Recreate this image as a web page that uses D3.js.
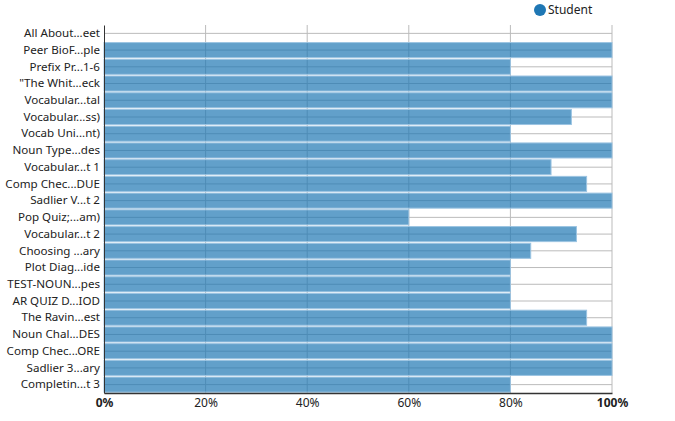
<!DOCTYPE html>
<html>
<head>
<meta charset="utf-8">
<script src="https://cdn.jsdelivr.net/npm/d3@7"></script>
<style>
  body { margin: 0; background: #fff; }
  svg { font-family: "Noto Sans", sans-serif; }
</style>
</head>
<body>
<svg id="chart" width="675" height="421"></svg>
<script>
// Assignment labels, as truncated in the chart
const categories = [
  "All About...eet", "Peer BioF...ple", "Prefix Pr...1-6", "\"The Whit...eck",
  "Vocabular...tal", "Vocabular...ss)", "Vocab Uni...nt)", "Noun Type...des",
  "Vocabular...t 1", "Comp Chec...DUE", "Sadlier V...t 2", "Pop Quiz;...am)",
  "Vocabular...t 2", "Choosing ...ary", "Plot Diag...ide", "TEST-NOUN...pes",
  "AR QUIZ D...IOD", "The Ravin...est", "Noun Chal...DES", "Comp Chec...ORE",
  "Sadlier 3...ary", "Completin...t 3"
]
// Student score, percent
const studentScores = [
  0, 100, 80, 100,
  100, 92, 80, 100,
  88, 95, 100, 60,
  93, 84, 80, 80,
  80, 95, 100, 100,
  100, 80
]
const xTicks = [0, 20, 40, 60, 80, 100]
const seriesName = "Student"

const margin = { top: 25, right: 63, bottom: 28, left: 104 }
const width = 675, height = 421
const svg = d3.select("#chart")

const x = d3.scaleLinear().domain([0, 100]).range([margin.left, width - margin.right])
const y = d3.scaleBand().domain(categories)
  .range([margin.top, height - margin.bottom]).paddingInner(0.1).paddingOuter(0.05)

// Gridlines
svg.append("g")
  .selectAll("line")
  .data(categories)
  .join("line")
  .attr("x1", x(0)).attr("x2", x(100))
  .attr("y1", d => y(d) + y.bandwidth() / 2)
  .attr("y2", d => y(d) + y.bandwidth() / 2)
  .attr("stroke", "#bbb").attr("stroke-width", 1)

svg.append("g")
  .selectAll("line")
  .data(xTicks.slice(1))
  .join("line")
  .attr("x1", d => x(d)).attr("x2", d => x(d))
  .attr("y1", margin.top).attr("y2", height - margin.bottom)
  .attr("stroke", "#bbb").attr("stroke-width", 1)

// Bars
svg.append("g")
  .selectAll("rect")
  .data(categories.map((c, i) => ({ c, v: studentScores[i] })).filter(d => d.v > 0))
  .join("rect")
  .attr("x", x(0))
  .attr("y", d => y(d.c))
  .attr("width", d => x(d.v) - x(0))
  .attr("height", y.bandwidth())
  .attr("fill", "#1f77b4").attr("fill-opacity", 0.7)
  .attr("stroke", "#9cc4e2").attr("stroke-width", 1)

// Axes
const yAxis = svg.append("g")
  .attr("transform", `translate(${margin.left},0)`)
  .call(d3.axisLeft(y).tickSize(0).tickPadding(4))
yAxis.select(".domain").attr("stroke", "#333")
yAxis.selectAll("text").attr("font-size", 11.6).attr("fill", "#222")
  .attr("font-family", "Noto Sans")

const xAxis = svg.append("g")
  .attr("transform", `translate(0,${height - margin.bottom})`)
  .call(d3.axisBottom(x).tickValues(xTicks).tickSize(0).tickPadding(5).tickFormat(d => d + "%"))
xAxis.select(".domain").attr("stroke", "#333").attr("stroke-width", 1.5)
xAxis.selectAll("text").attr("font-size", 12).attr("fill", "#222")
  .attr("font-family", "Noto Sans")
  .attr("font-weight", d => (d === 0 || d === 100) ? "bold" : "normal")

// Legend
const legend = svg.append("g").attr("transform", "translate(540,10)")
legend.append("circle").attr("r", 6).attr("fill", "#1f77b4")
legend.append("text").attr("x", 8).attr("dy", "0.35em")
  .attr("font-size", 12).attr("fill", "#222").text(seriesName)
</script>
</body>
</html>
